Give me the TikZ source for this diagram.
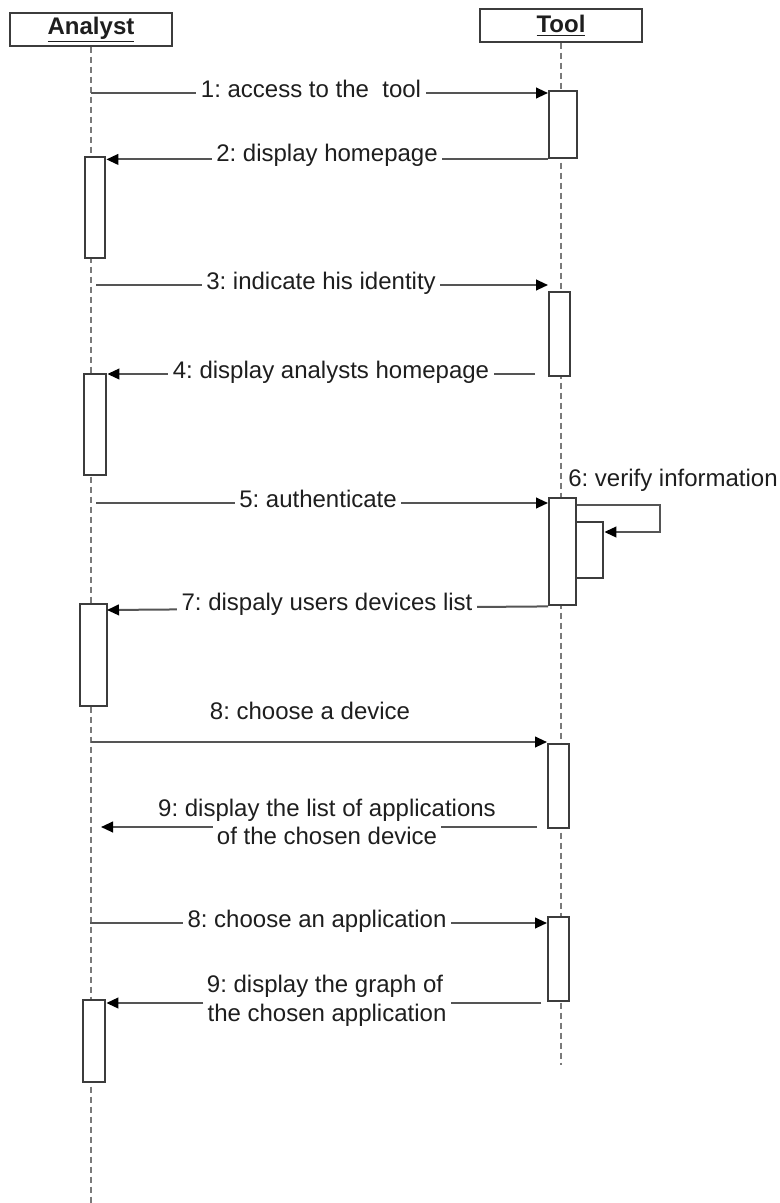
\documentclass[tikz,border=0pt]{standalone}
\usepackage{fontspec}
\setmainfont{Liberation Sans}
\usetikzlibrary{arrows.meta}
\definecolor{inkline}{HTML}{555555}
\definecolor{inkbox}{HTML}{3C3C3C}
\definecolor{inktext}{HTML}{1E1E1E}
\definecolor{inkdash}{HTML}{7A7A7A}
\frenchspacing
\begin{document}
\begin{tikzpicture}[x=0.75pt,y=-0.75pt,
  txt/.style={font=\fontsize{18}{21.5}\selectfont, text=inktext, inner sep=0pt,
              text height=0.716em, text depth=0pt},
  lbl/.style={txt, fill=white, inner xsep=3.5pt, inner ysep=1pt},
  head/.style={draw=inkbox, line width=1.1pt, fill=white, text=inktext,
               font=\fontsize{18}{21}\selectfont\bfseries,
               minimum width=121.5pt, minimum height=24.75pt, inner sep=0pt},
  actbox/.style 2 args={draw=inkbox, line width=1.8pt, fill=white, anchor=north west,
               inner sep=0pt, minimum width=#1*0.75pt, minimum height=#2*0.75pt},
  lifeline/.style={draw=inkdash, line width=1.1pt, dash pattern=on 4.5pt off 3pt},
  msgline/.style={draw=inkline, line width=1.5pt},
  msg/.style={msgline, -{Triangle[length=9pt,width=8pt,color=black]}},
]
\useasboundingbox (0,0) rectangle (780,1203);

% participants
\node[head] (an) at (91,29.5) {\underline{Analyst}};
\node[head] (tl) at (561,25.5) {\underline{Tool}};

% lifelines
\coordinate (anEnd) at (91,1203);
\coordinate (tlEnd) at (561,1065);
\draw[lifeline] (an.south) -- (anEnd);
\draw[lifeline] (tl.south) -- (tlEnd);

% activation bars
\node[actbox={28}{67}]  (t1) at (548,90)  {};
\node[actbox={20}{101}] (a1) at (84,156)  {};
\node[actbox={21}{84}]  (t2) at (548,291) {};
\node[actbox={22}{101}] (a2) at (83,373)  {};
\node[actbox={27}{107}] (t3) at (548,497) {};
\node[actbox={27}{56}]  (n6) at (575,521) {};
\node[actbox={27}{102}] (a3) at (79,603)  {};
\node[actbox={21}{84}]  (t4) at (547,743) {};
\node[actbox={21}{84}]  (t5) at (547,916) {};
\node[actbox={22}{82}]  (a4) at (82,999)  {};

% free ends of messages on the lifelines
\coordinate (m1)  at (91,93);
\coordinate (m3)  at (96,285);
\coordinate (m4)  at (535,374);
\coordinate (m5)  at (96,503);
\coordinate (s6a) at (660,505);
\coordinate (s6b) at (660,532);
\coordinate (m7)  at (107,610);
\coordinate (m8)  at (91,742);
\coordinate (m9s) at (537,827);
\coordinate (m9e) at (101,827);
\coordinate (m10) at (90,923);
\coordinate (m11) at (541,1003);

% 1
\draw[msg] (m1) -- (t1.west |- m1);
\node[lbl] (l1) at (311,93) {1: access to the\ \ tool};
% 2
\draw[msg] (t1.south west) -- (a1.east |- t1.south west);
\node[lbl] (l2) at (327,157) {2: display homepage};
% 3
\draw[msg] (m3) -- (t2.west |- m3);
\node[lbl] (l3) at (321,285) {3: indicate his identity};
% 4
\draw[msg] (m4) -- (a2.east |- m4);
\node[lbl] (l4) at (331,374) {4: display analysts homepage};
% 5
\draw[msg] (m5) -- (t3.west |- m5);
\node[lbl] (l5) at (318,503) {5: authenticate};
% 6 (self call)
\draw[msg] (t3.east |- s6a) -- (s6a) -- (s6b) -- (n6.east |- s6b);
\node[txt, anchor=west] (l6) at (568,482) {6: verify information};
% 7
\draw[msg] (t3.south west) -- (m7);
\node[lbl] (l7) at (327,606) {7: dispaly users devices list};
% 8
\draw[msg] (m8) -- (t4.west |- m8);
\node[txt] (l8) at (310,715) {8: choose a device};
% 9
\node[txt] (l9a) at (327,812) {9: display the list of applications};
\node[txt, inner xsep=3pt] (l9b) at (327,840) {of the chosen device};
\draw[msgline] (m9s) -- (l9b.east |- m9s);
\draw[msg] (l9b.west |- m9s) -- (m9e);
% 8 (application)
\draw[msg] (m10) -- (t5.west |- m10);
\node[lbl] (l10) at (317,923) {8: choose an application};
% 9 (graph)
\node[txt] (l11a) at (325,988) {9: display the graph of};
\node[txt, inner xsep=3pt] (l11b) at (327,1017) {the chosen application};
\draw[msgline] (m11) -- (l11b.east |- m11);
\draw[msg] (l11b.west |- m11) -- (a4.east |- m11);
\end{tikzpicture}
\end{document}
